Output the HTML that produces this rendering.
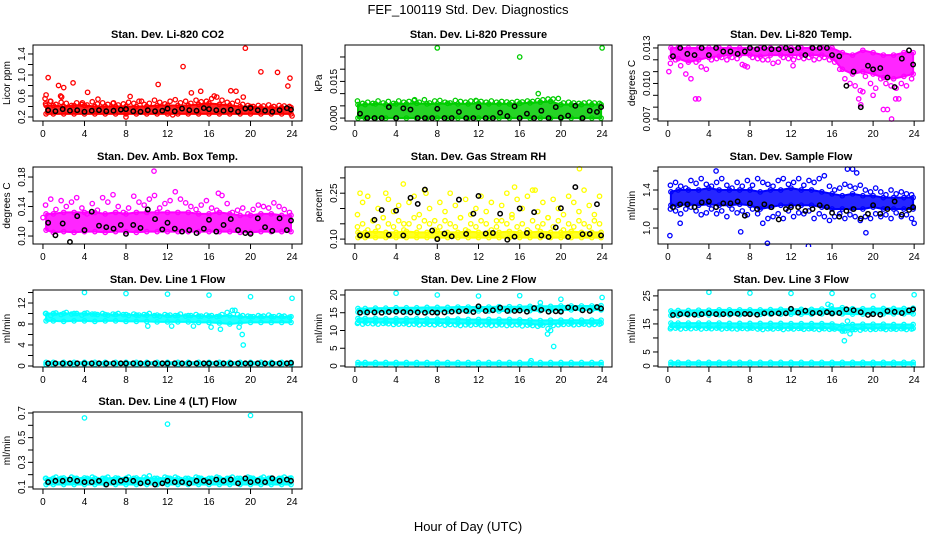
<!DOCTYPE html>
<html><head><meta charset="utf-8"><style>
html,body{margin:0;padding:0;background:#fff;}
svg{display:block;font-family:"Liberation Sans",Arial,sans-serif;}
</style></head><body>
<svg id="chart" width="936" height="540" viewBox="0 0 936 540">
<text x="468" y="14" text-anchor="middle" font-size="13">FEF_100119  Std. Dev. Diagnostics</text>
<text x="468" y="531" text-anchor="middle" font-size="13">Hour of Day (UTC)</text>
</svg>
<script>
// ---- shared time arrays ----
const hourTicks = [0,4,8,12,16,20,24];
const bandHours = [0.3,1,2,3,4,5,6,7,8,9,10,11,12,13,14,15,16,17,18,19,20,21,22,23,23.9];
const scatHours = [0.25,0.75,1.25,1.75,2.25,2.75,3.25,3.75,4.25,4.75,5.25,5.75,6.25,6.75,7.25,7.75,8.25,8.75,9.25,9.75,10.25,10.75,11.25,11.75,12.25,12.75,13.25,13.75,14.25,14.75,15.25,15.75,16.25,16.75,17.25,17.75,18.25,18.75,19.25,19.75,20.25,20.75,21.25,21.75,22.25,22.75,23.25,23.75];
const blackHours = [0.5,1.2,1.9,2.6,3.3,4.0,4.7,5.4,6.1,6.8,7.5,8.0,8.7,9.4,10.1,10.8,11.5,12.0,12.7,13.4,14.1,14.8,15.5,16.0,16.7,17.4,18.1,18.8,19.5,20.0,20.7,21.4,22.1,22.8,23.5,23.9];

// ---- P1 CO2 ----
const co2Lo = [0.26,0.26,0.26,0.26,0.26,0.26,0.26,0.26,0.26,0.26,0.26,0.26,0.26,0.26,0.26,0.26,0.26,0.26,0.26,0.26,0.26,0.26,0.26,0.26,0.26];
const co2Hi = [0.42,0.42,0.40,0.42,0.42,0.40,0.40,0.40,0.40,0.40,0.40,0.42,0.42,0.42,0.42,0.44,0.46,0.44,0.42,0.40,0.40,0.38,0.38,0.38,0.38];
const co2Scat = [0.45,0.50,0.44,0.48,0.46,0.42,0.47,0.44,0.43,0.49,0.45,0.47,0.44,0.46,0.43,0.45,0.48,0.46,0.50,0.44,0.46,0.52,0.48,0.45,0.50,0.53,0.47,0.50,0.46,0.52,0.49,0.50,0.55,0.58,0.52,0.48,0.46,0.50,0.44,0.42,0.40,0.42,0.41,0.43,0.40,0.42,0.41,0.40];
const co2OutX = [0.2,0.3,0.5,0.7,1.5,1.7,1.8,2.0,2.9,3.8,4.3,5.3,6.8,8.4,9.5,11.1,13.5,14.3,15.2,16.5,18.1,18.6,19.3,19.5,21.0,22.6,23.6,23.8,24.0,8.0,12.5];
const co2OutY = [0.55,0.62,0.95,0.50,0.80,0.60,0.58,0.76,0.85,0.47,0.67,0.54,0.47,0.59,0.50,0.82,1.16,0.66,0.69,0.60,0.70,0.69,0.58,1.51,1.06,1.05,0.79,0.94,0.22,0.20,0.24];
const co2Black = [0.33,0.31,0.35,0.32,0.33,0.30,0.32,0.33,0.31,0.32,0.34,0.35,0.31,0.30,0.33,0.31,0.32,0.36,0.31,0.36,0.33,0.32,0.37,0.35,0.33,0.32,0.34,0.30,0.36,0.37,0.33,0.32,0.30,0.33,0.37,0.34];

// ---- P2 Pressure ----
const presLo = [0.0000,0.0000,0.0000,0.0000,0.0000,0.0000,0.0000,0.0000,0.0000,0.0000,0.0000,0.0000,0.0000,0.0000,0.0000,0.0000,0.0000,0.0000,0.0000,0.0000,0.0000,0.0000,0.0000,0.0000,0.0000];
const presHi = [0.0055,0.0055,0.0058,0.0055,0.0058,0.0058,0.0060,0.0058,0.0058,0.0060,0.0058,0.0058,0.0060,0.0058,0.0058,0.0058,0.0060,0.0062,0.0065,0.0068,0.0055,0.0055,0.0055,0.0055,0.0055];
const presScat = [0.0070,0.0060,0.0065,0.0060,0.0070,0.0062,0.0068,0.0060,0.0070,0.0065,0.0068,0.0072,0.0065,0.0075,0.0062,0.0070,0.0072,0.0065,0.0062,0.0072,0.0068,0.0065,0.0070,0.0072,0.0068,0.0065,0.0070,0.0065,0.0068,0.0066,0.0064,0.0068,0.0066,0.0070,0.0068,0.0072,0.0075,0.0078,0.0078,0.0080,0.0062,0.0065,0.0062,0.0060,0.0062,0.0065,0.0062,0.0060];
const presOutX = [8.0,16.0,24.0,17.8,5.8,11.8];
const presOutY = [0.0287,0.0250,0.0287,0.0100,0.0075,0.0070];
const presBlack = [0.0018,0.0000,0.0000,0.0000,0.0045,0.0000,0.0040,0.0035,0.0000,0.0000,0.0000,0.0038,0.0000,0.0000,0.0025,0.0000,0.0000,0.0045,0.0000,0.0000,0.0022,0.0008,0.0048,0.0000,0.0018,0.0000,0.0030,0.0000,0.0045,0.0002,0.0010,0.0050,0.0000,0.0030,0.0025,0.0045];

// ---- P3 Li-820 Temp ----
const tempLo = [0.0122,0.0121,0.0118,0.0120,0.0122,0.0123,0.0124,0.0124,0.0124,0.0123,0.0124,0.0124,0.0124,0.0124,0.0124,0.0124,0.0122,0.0112,0.0108,0.0110,0.0108,0.0105,0.0104,0.0106,0.0108];
const tempHi = [0.0130,0.0130,0.0130,0.0130,0.0130,0.0130,0.0130,0.0130,0.0130,0.0130,0.0130,0.0130,0.0130,0.0130,0.0130,0.0130,0.0130,0.0126,0.0124,0.0128,0.0126,0.0124,0.0124,0.0126,0.0126];
const tempScat = [0.0117,0.0120,0.0115,0.0108,0.0104,0.0118,0.0114,0.0112,0.0120,0.0121,0.0122,0.0120,0.0122,0.0121,0.0116,0.0114,0.0122,0.0121,0.0120,0.0120,0.0117,0.0118,0.0122,0.0121,0.0120,0.0122,0.0121,0.0122,0.0120,0.0121,0.0122,0.0120,0.0118,0.0112,0.0104,0.0100,0.0098,0.0094,0.0106,0.0100,0.0096,0.0104,0.0100,0.0098,0.0096,0.0100,0.0098,0.0104];
const tempOutX = [2.7,3.0,0.1,7.5,12.2,18.6,18.8,21.0,21.4,21.8,19.0,22.2,22.5,20.0];
const tempOutY = [0.0087,0.0087,0.0110,0.0115,0.0115,0.0087,0.0082,0.0078,0.0078,0.0070,0.0093,0.0087,0.0087,0.0090];
const tempBlack = [0.0123,0.0130,0.0125,0.0124,0.0130,0.0124,0.0130,0.0127,0.0127,0.0125,0.0127,0.0130,0.0129,0.0130,0.0129,0.0129,0.0130,0.0128,0.0130,0.0124,0.0130,0.0130,0.0130,0.0124,0.0123,0.0098,0.0110,0.0080,0.0115,0.0112,0.0113,0.0105,0.0097,0.0121,0.0128,0.0116];

// ---- P4 Amb Box Temp ----
const ambLo = [0.108,0.105,0.106,0.105,0.106,0.106,0.105,0.106,0.106,0.105,0.106,0.106,0.106,0.106,0.106,0.106,0.106,0.106,0.106,0.105,0.105,0.106,0.106,0.106,0.106];
const ambHi = [0.130,0.130,0.132,0.132,0.132,0.132,0.130,0.132,0.130,0.132,0.132,0.132,0.132,0.132,0.132,0.130,0.130,0.132,0.130,0.128,0.128,0.130,0.130,0.128,0.128];
const ambScat = [0.142,0.150,0.136,0.148,0.140,0.146,0.152,0.138,0.130,0.144,0.135,0.152,0.146,0.156,0.140,0.132,0.138,0.154,0.146,0.142,0.150,0.155,0.138,0.144,0.148,0.160,0.150,0.145,0.140,0.136,0.142,0.148,0.138,0.135,0.155,0.144,0.132,0.135,0.138,0.130,0.136,0.142,0.140,0.138,0.145,0.140,0.136,0.132];
const ambOutX = [10.7,0.0,16.9];
const ambOutY = [0.188,0.125,0.158];
const ambBlack = [0.118,0.101,0.117,0.092,0.127,0.108,0.133,0.114,0.112,0.110,0.115,0.103,0.115,0.111,0.136,0.123,0.109,0.118,0.110,0.106,0.108,0.104,0.110,0.122,0.106,0.115,0.123,0.108,0.104,0.103,0.124,0.112,0.107,0.124,0.108,0.121];

// ---- P5 Gas Stream RH ----
const rhLo = [0.105,0.105,0.105,0.105,0.105,0.105,0.105,0.105,0.105,0.105,0.105,0.105,0.105,0.105,0.105,0.105,0.105,0.105,0.105,0.105,0.105,0.105,0.105,0.105,0.105];
const rhHi = [0.122,0.122,0.125,0.122,0.122,0.125,0.122,0.122,0.125,0.122,0.122,0.125,0.122,0.122,0.122,0.125,0.122,0.122,0.125,0.122,0.122,0.125,0.122,0.122,0.122];
const rhScat = [0.18,0.22,0.24,0.16,0.20,0.17,0.23,0.19,0.21,0.15,0.22,0.24,0.18,0.26,0.20,0.16,0.22,0.19,0.25,0.21,0.17,0.23,0.18,0.20,0.24,0.19,0.22,0.16,0.21,0.25,0.18,0.23,0.20,0.24,0.26,0.19,0.22,0.17,0.23,0.20,0.18,0.24,0.22,0.19,0.26,0.21,0.18,0.24];
const rhScat2 = [0.14,0.15,0.13,0.16,0.14,0.17,0.15,0.14,0.16,0.13,0.15,0.17,0.14,0.16,0.15,0.13,0.14,0.16,0.15,0.14,0.17,0.13,0.15,0.14,0.16,0.15,0.13,0.14,0.16,0.15,0.17,0.14,0.15,0.13,0.16,0.14,0.15,0.17,0.14,0.16,0.13,0.15,0.14,0.16,0.15,0.14,0.16,0.15];
const rhOutX = [4.7,21.8,15.5,17.5,3.0,0.5,6.9];
const rhOutY = [0.28,0.33,0.27,0.26,0.25,0.25,0.25];
const rhBlack = [0.112,0.113,0.163,0.195,0.114,0.193,0.112,0.235,0.215,0.262,0.128,0.100,0.118,0.109,0.229,0.117,0.183,0.241,0.118,0.120,0.183,0.098,0.108,0.200,0.120,0.188,0.112,0.107,0.138,0.201,0.107,0.270,0.116,0.117,0.214,0.112];

// ---- P6 Sample Flow ----
const sfLo = [1.24,1.24,1.25,1.24,1.25,1.24,1.24,1.25,1.24,1.20,1.22,1.24,1.24,1.24,1.24,1.22,1.20,1.20,1.20,1.20,1.22,1.20,1.20,1.20,1.20];
const sfHi = [1.38,1.40,1.40,1.40,1.42,1.40,1.40,1.40,1.40,1.38,1.40,1.40,1.42,1.40,1.40,1.38,1.36,1.34,1.36,1.34,1.34,1.32,1.32,1.32,1.32];
const sfScat = [1.45,1.48,1.44,1.42,1.50,1.47,1.52,1.46,1.44,1.48,1.52,1.45,1.42,1.48,1.44,1.50,1.45,1.52,1.48,1.46,1.44,1.50,1.52,1.46,1.48,1.52,1.45,1.50,1.48,1.52,1.55,1.44,1.40,1.42,1.46,1.44,1.42,1.45,1.40,1.38,1.42,1.38,1.35,1.40,1.36,1.38,1.36,1.35];
const sfScat2 = [1.20,1.18,1.15,1.20,1.22,1.18,1.14,1.16,1.20,1.15,1.18,1.12,1.20,1.16,1.18,1.14,1.20,1.15,1.05,1.10,1.12,1.15,1.10,1.18,1.12,1.16,1.15,1.18,1.10,1.15,1.12,1.08,1.12,1.15,1.10,1.14,1.12,1.08,1.12,1.10,1.15,1.12,1.14,1.10,1.16,1.12,1.14,1.10];
const sfOutX = [0.2,9.7,13.7,17.5,18.0,18.4,19.3,24.0,1.2,7.1,4.7];
const sfOutY = [0.92,0.84,0.81,1.62,1.62,1.58,0.95,1.05,1.05,0.96,1.60];
const sfBlack = [1.22,1.25,1.25,1.22,1.27,1.28,1.22,1.26,1.26,1.28,1.13,1.26,1.20,1.25,1.22,1.09,1.20,1.22,1.22,1.18,1.20,1.24,1.22,1.16,1.12,1.18,1.20,1.10,1.15,1.24,1.15,1.20,1.28,1.14,1.19,1.22];

// ---- P7 Line 1 Flow ----
const l1LoA = [8.6,8.6,8.5,8.6,8.6,8.5,8.6,8.6,8.5,8.5,8.5,8.4,8.4,8.4,8.4,8.3,8.3,8.2,8.0,8.2,8.3,8.3,8.3,8.3,8.3];
const l1HiA = [10.0,10.0,10.0,10.0,10.0,9.9,9.8,9.8,9.8,9.7,9.7,9.7,9.6,9.6,9.6,9.5,9.5,9.5,9.6,9.4,9.4,9.4,9.4,9.4,9.4];
const l1LoB = [0.3,0.3,0.3,0.3,0.3,0.3,0.3,0.3,0.3,0.3,0.3,0.3,0.3,0.3,0.3,0.3,0.3,0.3,0.3,0.3,0.3,0.3,0.3,0.3,0.3];
const l1HiB = [0.7,0.7,0.7,0.7,0.7,0.7,0.7,0.7,0.7,0.7,0.7,0.7,0.7,0.7,0.7,0.7,0.7,0.7,0.7,0.7,0.7,0.7,0.7,0.7,0.7];
const l1Scat = [10.0,9.6,10.1,9.8,10.2,9.9,10.0,9.7,10.1,9.9,9.8,10.0,9.7,9.9,10.0,9.8,9.6,9.9,9.7,9.8,10.0,9.6,9.5,9.8,9.7,9.6,9.9,9.5,9.6,9.8,9.5,9.7,9.6,9.4,9.8,10.2,10.6,9.8,9.6,9.5,9.4,9.6,9.5,9.7,9.4,9.6,9.5,9.3];
const l1OutX = [4.0,8.0,12.0,16.0,20.0,24.0,19.3,19.2,18.9,17.1,18.5,10.1,12.4,14.5,16.2];
const l1OutY = [14.0,13.8,13.7,13.5,13.2,12.9,4.0,6.0,7.4,7.0,10.6,7.6,7.6,7.6,7.4];
const l1Black = [0.5,0.5,0.5,0.5,0.5,0.5,0.5,0.5,0.5,0.5,0.5,0.5,0.5,0.5,0.5,0.5,0.5,0.5,0.5,0.5,0.5,0.5,0.5,0.5,0.5,0.5,0.5,0.5,0.5,0.5,0.5,0.5,0.5,0.5,0.5,0.6];

// ---- P8 Line 2 Flow ----
const l2LoA = [15.2,15.2,15.2,15.3,15.3,15.3,15.3,15.3,15.4,15.4,15.4,15.4,15.5,15.5,15.5,15.5,15.6,15.6,15.6,15.7,15.7,15.8,15.8,15.8,15.8];
const l2HiA = [16.2,16.2,16.3,16.3,16.4,16.4,16.4,16.5,16.5,16.5,16.6,16.6,16.6,16.6,16.7,16.7,16.7,16.8,16.8,16.8,16.9,16.9,16.9,16.9,17.0];
const l2LoB = [12.3,12.3,12.3,12.2,12.2,12.2,12.2,12.1,12.1,12.1,12.0,12.0,12.0,12.0,12.0,12.0,12.0,11.8,11.6,11.8,12.0,12.0,12.0,12.0,12.0];
const l2HiB = [13.4,13.4,13.4,13.3,13.3,13.3,13.3,13.2,13.2,13.2,13.2,13.1,13.1,13.1,13.1,13.1,13.0,12.9,12.8,12.9,12.9,12.9,12.9,12.9,12.9];
const l2LoC = [0.4,0.4,0.4,0.4,0.4,0.4,0.4,0.4,0.4,0.4,0.4,0.4,0.4,0.4,0.4,0.4,0.4,0.4,0.4,0.4,0.4,0.4,0.4,0.4,0.4];
const l2HiC = [1.0,1.0,1.0,1.0,1.0,1.0,1.0,1.0,1.0,1.0,1.0,1.0,1.0,1.0,1.0,1.0,1.0,1.0,1.0,1.0,1.0,1.0,1.0,1.0,1.0];
const l2Scat = [12.0,11.8,12.0,11.9,11.8,12.0,11.9,11.7,11.8,11.9,11.7,11.8,11.6,11.8,11.7,11.6,11.8,11.5,11.7,11.6,11.4,11.6,11.5,11.7,11.5,11.6,11.4,11.5,11.6,11.4,11.5,11.6,11.3,11.5,11.4,11.2,11.5,10.5,11.4,11.6,11.7,11.8,11.6,11.7,11.8,11.6,11.7,11.8];
const l2OutX = [4.0,8.0,12.0,16.0,20.0,24.0,18.7,19.0,19.3,18.0,17.1];
const l2OutY = [20.5,20.0,19.7,19.8,18.8,19.3,9.0,10.0,5.5,17.8,1.5];
const l2Black = [15.0,15.1,15.1,15.0,15.2,15.3,15.2,15.1,15.1,15.0,15.1,15.0,15.1,15.3,15.4,15.5,15.2,16.8,15.5,15.7,16.4,15.5,15.5,15.6,15.3,16.3,15.8,15.3,15.4,15.3,16.5,16.3,15.7,15.5,16.6,16.2];

// ---- P9 Line 3 Flow ----
const l3LoA = [18.0,18.0,18.2,18.2,18.2,18.3,18.3,18.3,18.4,18.4,18.5,18.5,18.5,18.5,18.5,18.6,18.6,18.6,18.5,18.5,18.6,18.6,18.6,18.6,18.6];
const l3HiA = [19.6,19.8,19.8,19.9,19.9,20.0,20.0,20.0,20.0,20.0,20.1,20.2,20.2,20.2,20.2,20.3,20.4,20.8,20.4,20.4,20.5,20.5,20.5,20.5,20.6];
const l3LoB = [13.8,13.8,13.8,13.8,13.7,13.7,13.7,13.7,13.6,13.6,13.6,13.6,13.6,13.5,13.5,13.5,13.4,12.5,13.0,13.4,13.4,13.4,13.4,13.4,13.4];
const l3HiB = [15.3,15.3,15.3,15.3,15.3,15.3,15.2,15.2,15.2,15.2,15.2,15.2,15.1,15.1,15.1,15.1,15.0,14.5,14.8,14.9,14.9,14.9,14.8,14.8,14.8];
const l3LoC = [0.5,0.5,0.5,0.5,0.5,0.5,0.5,0.5,0.5,0.5,0.5,0.5,0.5,0.5,0.5,0.5,0.5,0.5,0.5,0.5,0.5,0.5,0.5,0.5,0.5];
const l3HiC = [1.3,1.3,1.3,1.3,1.3,1.3,1.3,1.3,1.3,1.3,1.3,1.3,1.3,1.3,1.3,1.3,1.3,1.3,1.3,1.3,1.3,1.3,1.3,1.3,1.3];
const l3Scat = [13.3,13.5,13.2,13.4,13.3,13.5,13.2,13.4,13.3,13.5,13.2,13.4,13.3,13.2,13.4,13.3,13.5,13.2,13.0,13.3,13.2,13.4,13.0,13.3,13.2,13.4,13.1,13.3,13.2,13.0,13.3,13.1,13.2,13.3,12.5,11.5,13.0,12.8,13.2,13.0,13.1,13.3,13.0,13.2,13.1,13.3,13.0,13.2];
const l3OutX = [4.0,8.0,12.0,16.0,20.0,24.0,17.2,17.5,17.0,15.6,15.9];
const l3OutY = [26.3,26.0,25.9,25.9,25.0,25.4,9.0,16.0,12.5,22.0,21.5];
const l3Black = [18.2,18.5,18.5,18.3,18.5,18.8,18.5,18.5,18.6,18.6,18.6,18.5,18.3,18.8,18.7,18.8,18.8,20.4,19.0,19.7,18.9,18.9,19.2,18.8,18.9,20.2,19.9,19.2,18.2,18.5,18.3,19.6,19.3,18.9,19.8,20.2];

// ---- P10 Line 4 (LT) Flow ----
const l4Lo = [0.120,0.120,0.120,0.120,0.120,0.120,0.120,0.120,0.120,0.120,0.120,0.120,0.120,0.120,0.120,0.120,0.120,0.120,0.120,0.120,0.120,0.120,0.120,0.120,0.120];
const l4Hi = [0.170,0.170,0.173,0.170,0.173,0.170,0.170,0.173,0.170,0.173,0.170,0.170,0.173,0.170,0.170,0.173,0.170,0.173,0.170,0.170,0.173,0.170,0.173,0.170,0.173];
const l4Scat = [0.17,0.16,0.18,0.17,0.16,0.18,0.17,0.16,0.17,0.18,0.16,0.17,0.18,0.16,0.17,0.16,0.18,0.17,0.16,0.18,0.19,0.17,0.16,0.18,0.17,0.18,0.16,0.17,0.16,0.18,0.17,0.16,0.17,0.18,0.16,0.17,0.18,0.17,0.16,0.18,0.17,0.16,0.18,0.17,0.16,0.17,0.18,0.17];
const l4OutX = [4.0,12.0,20.0];
const l4OutY = [0.66,0.61,0.68];
const l4Black = [0.14,0.15,0.15,0.16,0.15,0.14,0.14,0.15,0.12,0.14,0.15,0.16,0.15,0.13,0.14,0.12,0.13,0.15,0.14,0.14,0.13,0.15,0.15,0.14,0.16,0.15,0.16,0.13,0.17,0.14,0.15,0.14,0.17,0.15,0.16,0.15];

const NS = 'http://www.w3.org/2000/svg';
const svg = document.getElementById('chart');
function mk(tag, attrs, parent){ const e=document.createElementNS(NS,tag); for(const k in attrs) e.setAttribute(k,attrs[k]); (parent||svg).appendChild(e); return e; }

const colsX = [[33,302],[345,612],[658,924]];
const rowsY = [[45,121],[167,244],[290,367],[412,489]];

const panels = [
 {key:'co2',title:'Stan. Dev. Li-820 CO2',ylab:'Licor ppm',col:0,row:0,dom:[0.124,1.571],ticks:[0.2,0.4,0.6,0.8,1.0,1.2,1.4],labels:['0.2','0.6','1.0','1.4'],color:'#ff0000',bands:[[co2Lo,co2Hi]],scats:[co2Scat],ox:co2OutX,oy:co2OutY,black:co2Black},
 {key:'pressure',title:'Stan. Dev. Li-820 Pressure',ylab:'kPa',col:1,row:0,dom:[-0.0012,0.0299],ticks:[0,0.005,0.010,0.015,0.020,0.025],labels:['0.000','0.015'],color:'#00cd00',bands:[[presLo,presHi]],scats:[presScat],ox:presOutX,oy:presOutY,black:presBlack},
 {key:'li820-temp',title:'Stan. Dev. Li-820 Temp.',ylab:'degrees C',col:2,row:0,dom:[0.00683,0.01325],ticks:[0.007,0.008,0.009,0.010,0.011,0.012,0.013],labels:['0.007','0.010','0.013'],color:'#ff00ff',bands:[[tempLo,tempHi]],scats:[tempScat],ox:tempOutX,oy:tempOutY,black:tempBlack},
 {key:'amb-box-temp',title:'Stan. Dev. Amb. Box Temp.',ylab:'degrees C',col:0,row:1,dom:[0.0892,0.1936],ticks:[0.10,0.12,0.14,0.16,0.18],labels:['0.10','0.14','0.18'],color:'#ff00ff',bands:[[ambLo,ambHi]],scats:[ambScat],ox:ambOutX,oy:ambOutY,black:ambBlack},
 {key:'gas-rh',title:'Stan. Dev. Gas Stream RH',ylab:'percent',col:1,row:1,dom:[0.084,0.3356],ticks:[0.10,0.15,0.20,0.25,0.30],labels:['0.10','0.25'],color:'#ffff00',bands:[[rhLo,rhHi]],scats:[rhScat,rhScat2],ox:rhOutX,oy:rhOutY,black:rhBlack},
 {key:'sample-flow',title:'Stan. Dev. Sample Flow',ylab:'ml/min',col:2,row:1,dom:[0.832,1.642],ticks:[1.0,1.2,1.4,1.6],labels:['1.0','1.4'],color:'#0000ff',bands:[[sfLo,sfHi]],scats:[sfScat,sfScat2],ox:sfOutX,oy:sfOutY,black:sfBlack},
 {key:'line1-flow',title:'Stan. Dev. Line 1 Flow',ylab:'ml/min',col:0,row:2,dom:[-0.19,14.48],ticks:[0,2,4,6,8,10,12,14],labels:['0','4','8','12'],color:'#00ffff',bands:[[l1LoA,l1HiA],[l1LoB,l1HiB]],scats:[l1Scat],ox:l1OutX,oy:l1OutY,black:l1Black},
 {key:'line2-flow',title:'Stan. Dev. Line 2 Flow',ylab:'ml/min',col:1,row:2,dom:[-0.28,21.4],ticks:[0,5,10,15,20],labels:['0','5','10','15','20'],color:'#00ffff',bands:[[l2LoA,l2HiA],[l2LoB,l2HiB],[l2LoC,l2HiC]],scats:[l2Scat],ox:l2OutX,oy:l2OutY,black:l2Black},
 {key:'line3-flow',title:'Stan. Dev. Line 3 Flow',ylab:'ml/min',col:2,row:2,dom:[-0.36,27.1],ticks:[0,5,10,15,20,25],labels:['0','5','15','25'],color:'#00ffff',bands:[[l3LoA,l3HiA],[l3LoB,l3HiB],[l3LoC,l3HiC]],scats:[l3Scat],ox:l3OutX,oy:l3OutY,black:l3Black},
 {key:'line4-flow',title:'Stan. Dev. Line 4 (LT) Flow',ylab:'ml/min',col:0,row:3,dom:[0.0838,0.708],ticks:[0.1,0.2,0.3,0.4,0.5,0.6,0.7],labels:['0.1','0.3','0.5','0.7'],color:'#00ffff',bands:[[l4Lo,l4Hi]],scats:[l4Scat],ox:l4OutX,oy:l4OutY,black:l4Black}
];

const defs = mk('defs',{});
panels.forEach((p,pi)=>{
  const [x0,x1]=colsX[p.col], [y0,y1]=rowsY[p.row];
  const cp = mk('clipPath',{id:'clip'+pi},defs);
  mk('rect',{x:x0-3,y:y0-3,width:x1-x0+6,height:y1-y0+6},cp);
  const xs = h => x0 + (h+0.96)/(25.92)*(x1-x0);
  const ys = v => y1 - (v-p.dom[0])/(p.dom[1]-p.dom[0])*(y1-y0);
  const g = mk('g',{});
  
  
  const cx=(x0+x1)/2;
  const t = mk('text',{x:cx,y:y0-7,'text-anchor':'middle','font-size':'11','font-weight':'bold'},g);
  t.textContent=p.title;
  
  
  const yl = mk('text',{x:0,y:0,'text-anchor':'middle','font-size':'10',transform:`translate(${x0-23},${(y0+y1)/2}) rotate(-90)`},g);
  yl.textContent=p.ylab;
  
  
  const marks = mk('g',{'clip-path':'url(#clip'+pi+')'},g);
  const sw = 1.3, r = 2.2;
  p.bands.forEach(b=>{
    const [lo,hi]=b;
    let d='';
    bandHours.forEach((h,i)=>{ d += (i?'L':'M')+xs(h).toFixed(1)+','+ys(hi[i]).toFixed(1); });
    for(let i=bandHours.length-1;i>=0;i--) d += 'L'+xs(bandHours[i]).toFixed(1)+','+ys(lo[i]).toFixed(1);
    d+='Z';
    const band = mk('path',{d:d,fill:p.color,'fill-opacity':'0.85',stroke:p.color,'stroke-width':'2','stroke-linejoin':'round'},marks);
    
    
    bandHours.forEach((h,i)=>{
      [lo[i],hi[i]].forEach(v=>{
        const c = mk('circle',{cx:xs(h),cy:ys(v),r:r,fill:'none',stroke:p.color,'stroke-width':sw},marks);
        
        
      });
    });
  });
  p.scats.forEach(arr=>{
    arr.forEach((v,i)=>{
      const c = mk('circle',{cx:xs(scatHours[i]),cy:ys(v),r:r,fill:'none',stroke:p.color,'stroke-width':sw},marks);
      
      
    });
  });
  p.ox.forEach((h,i)=>{
    const c = mk('circle',{cx:xs(h),cy:ys(p.oy[i]),r:r,fill:'none',stroke:p.color,'stroke-width':sw},marks);
    
    
  });
  p.black.forEach((v,i)=>{
    const c = mk('circle',{cx:xs(blackHours[i]),cy:ys(v),r:r,fill:'none',stroke:'#000','stroke-width':'1.5'},marks);
    
    
  });
  const box = mk('rect',{x:x0,y:y0,width:x1-x0,height:y1-y0,fill:'none',stroke:'#000','stroke-width':'1'},g);
  
  
  hourTicks.forEach(h=>{
    const X=xs(h);
    const tk = mk('line',{x1:X,x2:X,y1:y1,y2:y1+5,stroke:'#000','stroke-width':'1'},g);
    
    
    const tl = mk('text',{x:X,y:y1+16,'text-anchor':'middle','font-size':'10'},g);
    tl.textContent=String(h);
    
    
  });
  p.ticks.forEach(v=>{
    const Y=ys(v);
    const tk = mk('line',{x1:x0-5,x2:x0,y1:Y,y2:Y,stroke:'#000','stroke-width':'1'},g);
    
    
  });
  p.labels.forEach(s=>{
    const Y=ys(parseFloat(s));
    const tl = mk('text',{x:0,y:0,'text-anchor':'middle','font-size':'10',transform:`translate(${x0-8},${Y}) rotate(-90)`},g);
    tl.textContent=s;
    
    
  });
});
</script>
</body></html>
